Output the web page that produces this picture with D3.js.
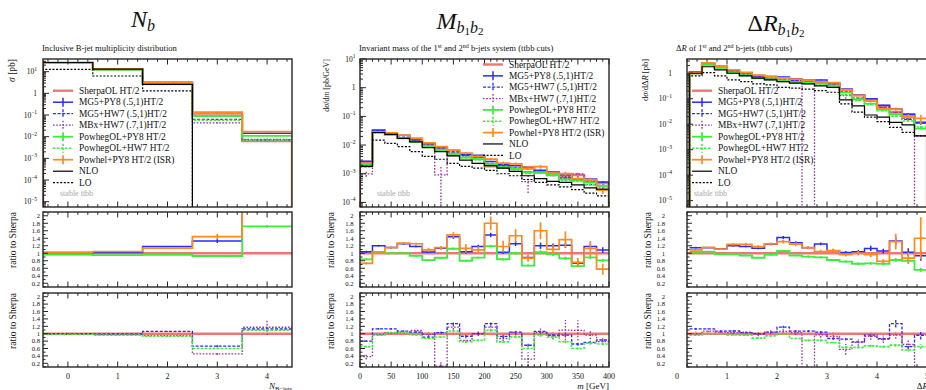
<!DOCTYPE html>
<html>
<head>
<meta charset="utf-8">
<script src="https://cdn.jsdelivr.net/npm/d3@7"></script>
<style>
  html, body { margin: 0; padding: 0; background: #fff; }
  svg { display: block; font-family: "Liberation Serif", "DejaVu Serif", serif; }
</style>
</head>
<body>
<svg id="chart" width="926" height="390"></svg>
<script>
// ---------------- N_b : inclusive b-jet multiplicity ----------------
const nbEdges      = [-0.5, 0.5, 1.5, 2.5, 3.5, 4.5];
const nbSherpa     = [25.5, 13.0, 2.75, 0.095, 0.0063];
const nbMg5Py8     = [24.7, 13.3, 3.25, 0.126, 0.0145];
const nbMg5Hw7     = [25.5, 12.9, 2.92, 0.063, 0.0071];
const nbMbxHw7     = [25.0, 12.7, 2.61, 0.043, 0.0074];
const nbPowhegPy8  = [24.7, 12.35, 2.64, 0.088, 0.0108];
const nbPowhegHw7  = [25.0, 12.5, 2.56, 0.057, 0.0069];
const nbPowhel     = [26.3, 13.6, 3.13, 0.137, 0.017];
const nbNlo        = [26.5, 13.0, 2.6, 0, 0];
const nbLo         = [12.9, 6.3, 1.3, 0, 0];
// relative statistical uncertainties
const nbMg5Py8Err    = [0.005, 0.005, 0.01, 0.04, 0.05];
const nbMg5Hw7Err    = [0.005, 0.005, 0.01, 0.04, 0.05];
const nbMbxHw7Err    = [0.01, 0.01, 0.03, 0.06, 0.18];
const nbPowhegPy8Err = [0.005, 0.005, 0.01, 0.03, 0.02];
const nbPowhegHw7Err = [0.005, 0.005, 0.01, 0.03, 0.03];
const nbPowhelErr    = [0.005, 0.005, 0.01, 0.05, 0.05];
const nbXTicks   = [0, 1, 2, 3, 4];
const nbDecades  = [-5, -4, -3, -2, -1, 0, 1];

// ---------------- M_b1b2 : invariant mass of the two leading b-jets ----------------
const mbbEdges     = [0, 20, 40, 60, 80, 100, 120, 140, 160, 180, 200, 220, 240, 260, 280, 300, 320, 340, 360, 380, 400];
const mbbSherpa    = [0.0026, 0.028, 0.023, 0.0175, 0.0138, 0.011, 0.0076, 0.0045, 0.0046, 0.0037, 0.0018, 0.0020, 0.0015, 0.0017, 0.0011, 0.00095, 0.00074, 0.0009, 0.00055, 0.00047];
const mbbMg5Py8    = [0.0027, 0.0336, 0.0265, 0.0219, 0.0163, 0.0114, 0.0086, 0.00648, 0.00478, 0.00437, 0.00268, 0.00206, 0.00188, 0.00151, 0.00132, 0.00114, 0.0009, 0.00066, 0.00065, 0.00051];
const mbbMg5Hw7    = [0.00208, 0.0316, 0.026, 0.0187, 0.0144, 0.01, 0.00783, 0.00572, 0.00428, 0.0037, 0.00229, 0.00186, 0.00156, 0.00117, 0.00117, 0.00091, 0.00071, 0.00065, 0.00042, 0.00039];
const mbbMbxHw7    = [0.00099, 0.0274, 0.0235, 0.0182, 0.015, 0.0108, 0.00091, 0.00531, 0.00377, 0.0037, 0.00212, 0.00174, 0.00155, 0.00053, 0.00114, 0.00089, 0.00081, 0.00098, 0.00053, 0.00037];
const mbbPowhegPy8 = [0.00218, 0.0286, 0.023, 0.0175, 0.0128, 0.009, 0.00669, 0.00504, 0.00368, 0.00326, 0.00214, 0.00168, 0.0015, 0.00114, 0.00113, 0.00092, 0.00064, 0.00059, 0.00049, 0.00038];
const mbbPowhegHw7 = [0.00169, 0.0269, 0.0237, 0.018, 0.0133, 0.00957, 0.00692, 0.00482, 0.00359, 0.00303, 0.00196, 0.00156, 0.00137, 0.00102, 0.00106, 0.00086, 0.00058, 0.00054, 0.00041, 0.00034];
const mbbPowhel    = [0.0019, 0.0291, 0.0265, 0.0222, 0.0173, 0.012, 0.00874, 0.0067, 0.0052, 0.00403, 0.00324, 0.00236, 0.0022, 0.00148, 0.00176, 0.00105, 0.00101, 0.00068, 0.00062, 0.00027];
const mbbNlo       = [0.0018, 0.0274, 0.0234, 0.017, 0.013, 0.0081, 0.0059, 0.0042, 0.003, 0.0023, 0.00193, 0.00156, 0.0012, 0.00085, 0.00067, 0.00054, 0.0005, 0.00041, 0.00032, 0.00029];
const mbbLo        = [0.0018, 0.0149, 0.0115, 0.0088, 0.0059, 0.004, 0.0032, 0.0023, 0.0018, 0.00156, 0.0013, 0.001, 0.00085, 0.00063, 0.0005, 0.00041, 0.00035, 0.00028, 0.00021, 0.00017];
const mbbMg5Py8Err    = [0.03, 0.02, 0.02, 0.02, 0.02, 0.03, 0.03, 0.04, 0.05, 0.04, 0.04, 0.05, 0.05, 0.06, 0.07, 0.05, 0.06, 0.08, 0.07, 0.07];
const mbbMg5Hw7Err    = [0.03, 0.02, 0.02, 0.02, 0.02, 0.03, 0.03, 0.04, 0.04, 0.04, 0.04, 0.05, 0.05, 0.06, 0.06, 0.05, 0.06, 0.07, 0.06, 0.07];
const mbbMbxHw7Err    = [0.2, 0.03, 0.03, 0.03, 0.04, 0.05, 0.9, 0.06, 0.06, 0.06, 0.08, 0.08, 0.08, 0.6, 0.1, 0.1, 0.25, 0.25, 0.12, 0.12];
const mbbPowhegPy8Err = [0.03, 0.01, 0.01, 0.01, 0.02, 0.02, 0.02, 0.03, 0.03, 0.03, 0.03, 0.04, 0.04, 0.04, 0.05, 0.04, 0.05, 0.05, 0.05, 0.05];
const mbbPowhegHw7Err = [0.03, 0.01, 0.01, 0.01, 0.02, 0.02, 0.02, 0.03, 0.03, 0.03, 0.03, 0.04, 0.04, 0.04, 0.05, 0.04, 0.05, 0.05, 0.05, 0.05];
const mbbPowhelErr    = [0.04, 0.02, 0.02, 0.02, 0.02, 0.05, 0.04, 0.05, 0.1, 0.09, 0.1, 0.13, 0.12, 0.11, 0.14, 0.11, 0.16, 0.16, 0.18, 0.26];
const mbbXTicks  = [0, 50, 100, 150, 200, 250, 300, 350, 400];
const mbbDecades = [-4, -3, -2, -1, 0, 1];

// ---------------- ΔR_b1b2 : separation of the two leading b-jets ----------------
const drEdges      = [0.25, 0.5, 0.75, 1, 1.25, 1.5, 1.75, 2, 2.25, 2.5, 2.75, 3, 3.25, 3.5, 3.75, 4, 4.25, 4.5, 4.75, 5];
const drSherpa     = [1.0, 2.2, 1.7, 1.1, 0.88, 0.72, 0.6, 0.5, 0.48, 0.47, 0.44, 0.4, 0.23, 0.135, 0.088, 0.052, 0.03, 0.024, 0.012];
const drMg5Py8     = [1.15, 2.53, 1.9, 1.32, 1.04, 0.814, 0.744, 0.71, 0.614, 0.54, 0.55, 0.428, 0.235, 0.14, 0.0994, 0.0551, 0.0399, 0.0247, 0.0112];
const drMg5Hw7     = [1.13, 2.49, 1.82, 1.18, 0.906, 0.72, 0.624, 0.59, 0.514, 0.503, 0.458, 0.348, 0.196, 0.105, 0.0845, 0.0452, 0.0381, 0.0156, 0.0115];
const drMbxHw7     = [1.0, 2.35, 1.77, 1.13, 0.915, 0.706, 0.624, 0.53, 0.494, 0, 0.427, 0.372, 0.133, 0.103, 0.0818, 0.0442, 0.0288, 0.017, 0];
const drPowhegPy8  = [1.04, 2.29, 1.65, 1.07, 0.827, 0.634, 0.576, 0.53, 0.451, 0.428, 0.392, 0.328, 0.179, 0.0972, 0.0642, 0.0374, 0.0246, 0.0192, 0.0067];
const drPowhegHw7  = [0.96, 2.2, 1.7, 1.06, 0.845, 0.634, 0.564, 0.5, 0.418, 0.385, 0.361, 0.304, 0.145, 0.085, 0.059, 0.0338, 0.0207, 0.0134, 0.0078];
const drPowhel     = [1.09, 2.55, 1.89, 1.36, 1.09, 0.85, 0.75, 0.655, 0.595, 0.54, 0.458, 0.428, 0.221, 0.135, 0.0845, 0.0406, 0.0393, 0.0209, 0.0168];
const drNlo        = [1.0, 1.8, 1.35, 1.0, 0.79, 0.64, 0.55, 0.47, 0.41, 0.38, 0.32, 0.28, 0.09, 0.052, 0.023, 0.019, 0.0117, 0.0094, 0.0035];
const drLo         = [0.79, 1.06, 0.79, 0.55, 0.47, 0.38, 0.35, 0.28, 0.26, 0.24, 0.21, 0.18, 0.063, 0.03, 0.019, 0.0127, 0.0075, 0.0048, 0.0035];
const drMg5Py8Err    = [0.02, 0.01, 0.02, 0.02, 0.02, 0.02, 0.02, 0.03, 0.03, 0.03, 0.03, 0.04, 0.04, 0.05, 0.06, 0.06, 0.08, 0.1, 0.14];
const drMg5Hw7Err    = [0.02, 0.01, 0.02, 0.02, 0.02, 0.02, 0.02, 0.03, 0.03, 0.03, 0.03, 0.04, 0.04, 0.05, 0.06, 0.06, 0.08, 0.1, 0.12];
const drMbxHw7Err    = [0.05, 0.03, 0.03, 0.04, 0.04, 0.05, 0.05, 0.06, 0.06, 1.0, 0.08, 0.1, 0.25, 0.12, 0.1, 0.12, 0.1, 0.15, 1.0];
const drPowhegPy8Err = [0.01, 0.01, 0.01, 0.02, 0.02, 0.02, 0.02, 0.02, 0.02, 0.03, 0.03, 0.03, 0.04, 0.05, 0.05, 0.06, 0.06, 0.07, 0.1];
const drPowhegHw7Err = [0.01, 0.01, 0.01, 0.02, 0.02, 0.02, 0.02, 0.02, 0.02, 0.03, 0.03, 0.03, 0.04, 0.05, 0.05, 0.06, 0.06, 0.07, 0.1];
const drPowhelErr    = [0.02, 0.01, 0.02, 0.03, 0.03, 0.03, 0.03, 0.04, 0.04, 0.04, 0.05, 0.05, 0.05, 0.06, 0.07, 0.08, 0.16, 0.18, 0.4];
const drXTicks   = [0, 1, 2, 3, 4, 5];
const drDecades  = [-5, -4, -3, -2, -1, 0];

// ratio panel ticks (shared)
const ratioTicks = [0.2, 0.4, 0.6, 0.8, 1, 1.2, 1.4, 1.6, 1.8, 2];

// ---------------- styles ----------------
const styles = {
  sherpa:    { label: "SherpaOL HT/2",          color: "#f27575", width: 2.4, dash: null,      err: false },
  mg5py8:    { label: "MG5+PY8 (.5,1)HT/2",     color: "#2a2aff", width: 1.5, dash: null,      err: true },
  mg5hw7:    { label: "MG5+HW7 (.5,1)HT/2",     color: "#2a2aff", width: 1.3, dash: "3,1.6",   err: true },
  mbxhw7:    { label: "MBx+HW7 (.7,1)HT/2",     color: "#9a30a6", width: 1.3, dash: "1.6,1.6", err: true },
  powhegpy8: { label: "PowhegOL+PY8 HT/2",      color: "#3cee3c", width: 1.8, dash: null,      err: true },
  powheghw7: { label: "PowhegOL+HW7 HT/2",      color: "#3cee3c", width: 1.6, dash: "2.4,1.6", err: true },
  powhel:    { label: "Powhel+PY8 HT/2 (ISR)",  color: "#ff8a1f", width: 1.7, dash: null,      err: true },
  nlo:       { label: "NLO",                    color: "#000000", width: 1.2, dash: null,      err: false },
  lo:        { label: "LO",                     color: "#000000", width: 1.2, dash: "2,1.6",   err: false }
};
const seriesOrder = ["sherpa", "mg5py8", "mg5hw7", "mbxhw7", "powhegpy8", "powheghw7", "powhel", "nlo", "lo"];
const ratio1Keys = ["mg5py8", "powhegpy8", "powhel"];
const ratio2Keys = ["mg5hw7", "mbxhw7", "powheghw7"];

const panels = [
  {
    left: 43, right: 292, xDomain: [-0.5, 4.5], yDomain: [Math.pow(10, -5.245), Math.pow(10, 1.585)],
    edges: nbEdges, xTicks: nbXTicks, xMinor: 0.2, decades: nbDecades, mainGap: 6, ratioGap: 3,
    data: { sherpa: nbSherpa, mg5py8: nbMg5Py8, mg5hw7: nbMg5Hw7, mbxhw7: nbMbxHw7, powhegpy8: nbPowhegPy8, powheghw7: nbPowhegHw7, powhel: nbPowhel, nlo: nbNlo, lo: nbLo },
    errs: { mg5py8: nbMg5Py8Err, mg5hw7: nbMg5Hw7Err, mbxhw7: nbMbxHw7Err, powhegpy8: nbPowhegPy8Err, powheghw7: nbPowhegHw7Err, powhel: nbPowhelErr },
    legend: { x: 53, y: 90.7, dy: 11.5 },
    title: { x: 143, y: 27 }, subtitleX: 42, yLabelX: 15, yLabelSize: 9.5, ratioLabelX: 16, stableX: 60, xLabelX: 292
  },
  {
    left: 360, right: 609, xDomain: [0, 400], yDomain: [Math.pow(10, -4.16), 10],
    edges: mbbEdges, xTicks: mbbXTicks, xMinor: 10, decades: mbbDecades, mainGap: 4.5, ratioGap: 6.5,
    data: { sherpa: mbbSherpa, mg5py8: mbbMg5Py8, mg5hw7: mbbMg5Hw7, mbxhw7: mbbMbxHw7, powhegpy8: mbbPowhegPy8, powheghw7: mbbPowhegHw7, powhel: mbbPowhel, nlo: mbbNlo, lo: mbbLo },
    errs: { mg5py8: mbbMg5Py8Err, mg5hw7: mbbMg5Hw7Err, mbxhw7: mbbMbxHw7Err, powhegpy8: mbbPowhegPy8Err, powheghw7: mbbPowhegHw7Err, powhel: mbbPowhelErr },
    legend: { x: 483, y: 64.5, dy: 11.35 },
    title: { x: 460, y: 28.5 }, subtitleX: 359, yLabelX: 329, yLabelSize: 8, ratioLabelX: 334, stableX: 377, xLabelX: 609
  },
  {
    left: 687, right: 937, xDomain: [0.2, 5.2], yDomain: [Math.pow(10, -5.25), Math.pow(10, 0.56)],
    edges: drEdges, xTicks: drXTicks, xMinor: 0.2, decades: drDecades, mainGap: 15, ratioGap: 22,
    data: { sherpa: drSherpa, mg5py8: drMg5Py8, mg5hw7: drMg5Hw7, mbxhw7: drMbxHw7, powhegpy8: drPowhegPy8, powheghw7: drPowhegHw7, powhel: drPowhel, nlo: drNlo, lo: drLo },
    errs: { mg5py8: drMg5Py8Err, mg5hw7: drMg5Hw7Err, mbxhw7: drMbxHw7Err, powhegpy8: drPowhegPy8Err, powheghw7: drPowhegHw7Err, powhel: drPowhelErr },
    legend: { x: 692, y: 90.7, dy: 11.5 },
    title: { x: 776, y: 30.5 }, subtitleX: 676, yLabelX: 648, yLabelSize: 8.5, ratioLabelX: 651, stableX: 694, xLabelX: 928
  }
];

// ---------------- drawing ----------------
const svg = d3.select("#chart");
const defs = svg.append("defs");
const ROWS = { main: [59, 207], r1: [212, 287], r2: [293, 367] };
const ratioDomain = [0.1, 2.1];
const FRAME = "#262626";

function styleLine(sel, s) {
  sel.attr("fill", "none").attr("stroke", s.color).attr("stroke-width", s.width);
  if (s.dash) sel.attr("stroke-dasharray", s.dash);
  return sel;
}

function histPath(edges, vals, x, y, base, closed) {
  const yv = v => (v > 0 && isFinite(v)) ? y(v) : base + 4;
  let d = closed ? `M${x(edges[0])},${base + 4}` : "";
  vals.forEach((v, i) => {
    d += `${d === "" ? "M" : "L"}${x(edges[i])},${yv(v)}L${x(edges[i + 1])},${yv(v)}`;
  });
  if (closed) d += `L${x(edges[edges.length - 1])},${base + 4}`;
  return d;
}

function errorBars(g, edges, vals, rel, x, y, base, s) {
  vals.forEach((v, i) => {
    if (!(v > 0) || !isFinite(v)) return;
    const c = x((edges[i] + edges[i + 1]) / 2);
    const lo = v * (1 - rel[i]);
    const hi = v * (1 + rel[i]);
    styleLine(g.append("line"), s)
      .attr("x1", c).attr("x2", c)
      .attr("y1", lo > 0 ? y(lo) : base + 4).attr("y2", y(hi));
  });
}

function supLabel(text, k) {
  if (k === 0) { text.text("1"); return; }
  text.append("tspan").text("10");
  text.append("tspan").attr("dy", -3.6).attr("font-size", 5.5).text(k < 0 ? "\u2212" + (-k) : String(k));
}

function xTickMarks(p, x, top, bottom) {
  const [d0, d1] = x.domain();
  const minors = d3.range(Math.ceil(d0 / p.xMinor - 1e-9) * p.xMinor, d1 + 1e-9, p.xMinor);
  const g = svg.append("g").attr("stroke", FRAME).attr("stroke-width", 1);
  minors.forEach(v => {
    const isMajor = p.xTicks.some(t => Math.abs(t - v) < 1e-6);
    const len = isMajor ? 5.5 : 2.8;
    const xx = x(v);
    g.append("line").attr("x1", xx).attr("x2", xx).attr("y1", bottom).attr("y2", bottom - len);
    g.append("line").attr("x1", xx).attr("x2", xx).attr("y1", top).attr("y2", top + len);
  });
}

function drawPanel(p, idx) {
  const x = d3.scaleLinear().domain(p.xDomain).range([p.left, p.right]);
  const yMain = d3.scaleLog().domain(p.yDomain).range([ROWS.main[1], ROWS.main[0]]);
  const yR1 = d3.scaleLinear().domain(ratioDomain).range([ROWS.r1[1], ROWS.r1[0]]);
  const yR2 = d3.scaleLinear().domain(ratioDomain).range([ROWS.r2[1], ROWS.r2[0]]);

  const panes = {};
  [["main", ROWS.main], ["r1", ROWS.r1], ["r2", ROWS.r2]].forEach(([key, r]) => {
    const id = `clip-${idx}-${key}`;
    defs.append("clipPath").attr("id", id).append("rect")
      .attr("x", p.left).attr("y", r[0]).attr("width", p.right - p.left).attr("height", r[1] - r[0]);
    panes[key] = svg.append("g").attr("clip-path", `url(#${id})`);
  });

  // main distributions
  seriesOrder.forEach(k => {
    const s = styles[k];
    styleLine(panes.main.append("path"), s)
      .attr("d", histPath(p.edges, p.data[k], x, yMain, ROWS.main[1], true));
    if (p.errs[k]) errorBars(panes.main, p.edges, p.data[k], p.errs[k], x, yMain, ROWS.main[1], s);
  });

  // ratio panels
  const ref = p.data.sherpa;
  [[panes.r1, yR1, ratio1Keys, ROWS.r1], [panes.r2, yR2, ratio2Keys, ROWS.r2]].forEach(([g, y, keys, r]) => {
    styleLine(g.append("line"), styles.sherpa)
      .attr("x1", p.left).attr("x2", p.right).attr("y1", y(1)).attr("y2", y(1));
    keys.forEach(k => {
      const s = styles[k];
      const ratio = p.data[k].map((v, i) => v / ref[i]);
      styleLine(g.append("path"), s).attr("d", histPath(p.edges, ratio, x, y, r[1], false));
      errorBars(g, p.edges, ratio, p.errs[k], x, y, r[1], s);
    });
  });

  // frames and ticks
  [ROWS.main, ROWS.r1, ROWS.r2].forEach(r => {
    xTickMarks(p, x, r[0], r[1]);
    svg.append("rect").attr("x", p.left).attr("y", r[0])
      .attr("width", p.right - p.left).attr("height", r[1] - r[0])
      .attr("fill", "none").attr("stroke", FRAME).attr("stroke-width", 1.4);
  });

  // log y ticks of the main pane
  const tg = svg.append("g").attr("stroke", FRAME).attr("stroke-width", 1);
  const [ylo, yhi] = yMain.domain();
  for (let k = Math.floor(Math.log10(ylo)); k <= Math.ceil(Math.log10(yhi)); k++) {
    for (let m = 1; m <= 9; m++) {
      const v = m * Math.pow(10, k);
      if (v < ylo || v > yhi) continue;
      const yy = yMain(v);
      tg.append("line").attr("x1", p.left).attr("x2", p.left + (m === 1 ? 6 : 3)).attr("y1", yy).attr("y2", yy);
    }
  }
  p.decades.forEach(k => {
    const t = svg.append("text").attr("x", p.left - p.mainGap).attr("y", yMain(Math.pow(10, k)) + 2.6)
      .attr("text-anchor", "end").attr("font-size", 7.5).attr("fill", "#111");
    supLabel(t, k);
  });

  // ratio y ticks
  [[yR1, ROWS.r1], [yR2, ROWS.r2]].forEach(([y]) => {
    d3.range(0.1, 2.1001, 0.1).forEach(v => {
      const major = ratioTicks.some(t => Math.abs(t - v) < 1e-6);
      tg.append("line").attr("x1", p.left).attr("x2", p.left + (major ? 5 : 2.5)).attr("y1", y(v)).attr("y2", y(v));
    });
    ratioTicks.forEach(v => {
      svg.append("text").attr("x", p.left - p.ratioGap).attr("y", y(v) + 2.3)
        .attr("text-anchor", "end").attr("font-size", 6.6).attr("fill", "#111")
        .text(d3.format("~g")(v));
    });
  });

  // x tick labels under the lowest pane
  p.xTicks.forEach(v => {
    svg.append("text").attr("x", x(v)).attr("y", 378.5).attr("text-anchor", "middle")
      .attr("font-size", 8).attr("fill", "#111").text(v);
  });

  // "stable ttbb"
  svg.append("text").attr("x", p.stableX).attr("y", 196).attr("font-size", 8)
    .attr("fill", "#a8a8a8").text("stable ttbb");

  // axis labels
  [[p.yLabelX, ROWS.main[0]], [p.ratioLabelX, ROWS.r1[0]], [p.ratioLabelX, ROWS.r2[0]]].forEach(([lx, ly], j) => {
    const t = svg.append("text").attr("transform", `translate(${lx},${ly}) rotate(-90)`)
      .attr("text-anchor", "end").attr("fill", "#111");
    if (j > 0) t.attr("font-size", 9.5).text("ratio to Sherpa");
    else { t.attr("font-size", p.yLabelSize); p.yLabel(t); }
  });
  p.xLabel(svg.append("text").attr("x", p.xLabelX).attr("y", 388.5).attr("text-anchor", "end")
    .attr("font-size", 9).attr("fill", "#111"));

  // subtitle and title
  p.subtitle(svg.append("text").attr("x", p.subtitleX).attr("y", 50.5).attr("font-size", 8.6).attr("fill", "#111"));
  p.titleText(svg.append("text").attr("x", p.title.x).attr("y", p.title.y).attr("text-anchor", "middle")
    .attr("font-size", 24).attr("fill", "#111"));

  // legend
  const L = p.legend;
  seriesOrder.forEach((k, i) => {
    const s = styles[k];
    const yy = L.y + i * L.dy;
    styleLine(svg.append("line"), s).attr("x1", L.x).attr("x2", L.x + 20).attr("y1", yy).attr("y2", yy);
    if (s.err) styleLine(svg.append("line"), s).attr("x1", L.x + 10).attr("x2", L.x + 10).attr("y1", yy - 4.5).attr("y2", yy + 4.5);
    svg.append("text").attr("x", L.x + 26).attr("y", yy + 3.2).attr("font-size", 9.4).attr("fill", "#111").text(s.label);
  });
}

// text builders for each panel
panels[0].titleText = t => {
  t.append("tspan").attr("font-style", "italic").text("N");
  t.append("tspan").attr("font-style", "italic").attr("font-size", 16).attr("dy", 4).text("b");
};
panels[0].subtitle = t => t.text("Inclusive B-jet multiplicity distribution");
panels[0].yLabel = t => {
  t.append("tspan").attr("font-style", "italic").text("\u03c3");
  t.append("tspan").text(" [pb]");
};
panels[0].xLabel = t => {
  t.append("tspan").attr("font-style", "italic").text("N");
  t.append("tspan").attr("font-size", 6.5).attr("dy", 2).text("B\u2212jets");
};

panels[1].titleText = t => {
  t.append("tspan").attr("font-style", "italic").text("M");
  t.append("tspan").attr("font-style", "italic").attr("font-size", 16).attr("dy", 4).text("b");
  t.append("tspan").attr("font-size", 11).attr("dy", 2.5).text("1");
  t.append("tspan").attr("font-style", "italic").attr("font-size", 16).attr("dy", -2.5).text("b");
  t.append("tspan").attr("font-size", 11).attr("dy", 2.5).text("2");
};
panels[1].subtitle = t => {
  t.append("tspan").text("Invariant mass of the 1");
  t.append("tspan").attr("font-size", 6).attr("dy", -3).text("st");
  t.append("tspan").attr("dy", 3).text(" and 2");
  t.append("tspan").attr("font-size", 6).attr("dy", -3).text("nd");
  t.append("tspan").attr("dy", 3).text(" b-jets system (ttbb cuts)");
};
panels[1].yLabel = t => {
  t.append("tspan").text("d");
  t.append("tspan").attr("font-style", "italic").text("\u03c3");
  t.append("tspan").text("/d");
  t.append("tspan").attr("font-style", "italic").text("m");
  t.append("tspan").text(" [pb/GeV]");
};
panels[1].xLabel = t => {
  t.append("tspan").attr("font-style", "italic").text("m");
  t.append("tspan").text(" [GeV]");
};

panels[2].titleText = t => {
  t.append("tspan").text("\u0394");
  t.append("tspan").attr("font-style", "italic").text("R");
  t.append("tspan").attr("font-style", "italic").attr("font-size", 16).attr("dy", 4).text("b");
  t.append("tspan").attr("font-size", 11).attr("dy", 2.5).text("1");
  t.append("tspan").attr("font-style", "italic").attr("font-size", 16).attr("dy", -2.5).text("b");
  t.append("tspan").attr("font-size", 11).attr("dy", 2.5).text("2");
};
panels[2].subtitle = t => {
  t.append("tspan").text("\u0394");
  t.append("tspan").attr("font-style", "italic").text("R");
  t.append("tspan").text(" of 1");
  t.append("tspan").attr("font-size", 6).attr("dy", -3).text("st");
  t.append("tspan").attr("dy", 3).text(" and 2");
  t.append("tspan").attr("font-size", 6).attr("dy", -3).text("nd");
  t.append("tspan").attr("dy", 3).text(" b-jets (ttbb cuts)");
};
panels[2].yLabel = t => {
  t.append("tspan").text("d");
  t.append("tspan").attr("font-style", "italic").text("\u03c3");
  t.append("tspan").text("/d\u0394");
  t.append("tspan").attr("font-style", "italic").text("R");
  t.append("tspan").text(" [pb]");
};
panels[2].xLabel = t => {
  t.append("tspan").text("\u0394");
  t.append("tspan").attr("font-style", "italic").text("R");
};

panels.forEach(drawPanel);
</script>
</body>
</html>
